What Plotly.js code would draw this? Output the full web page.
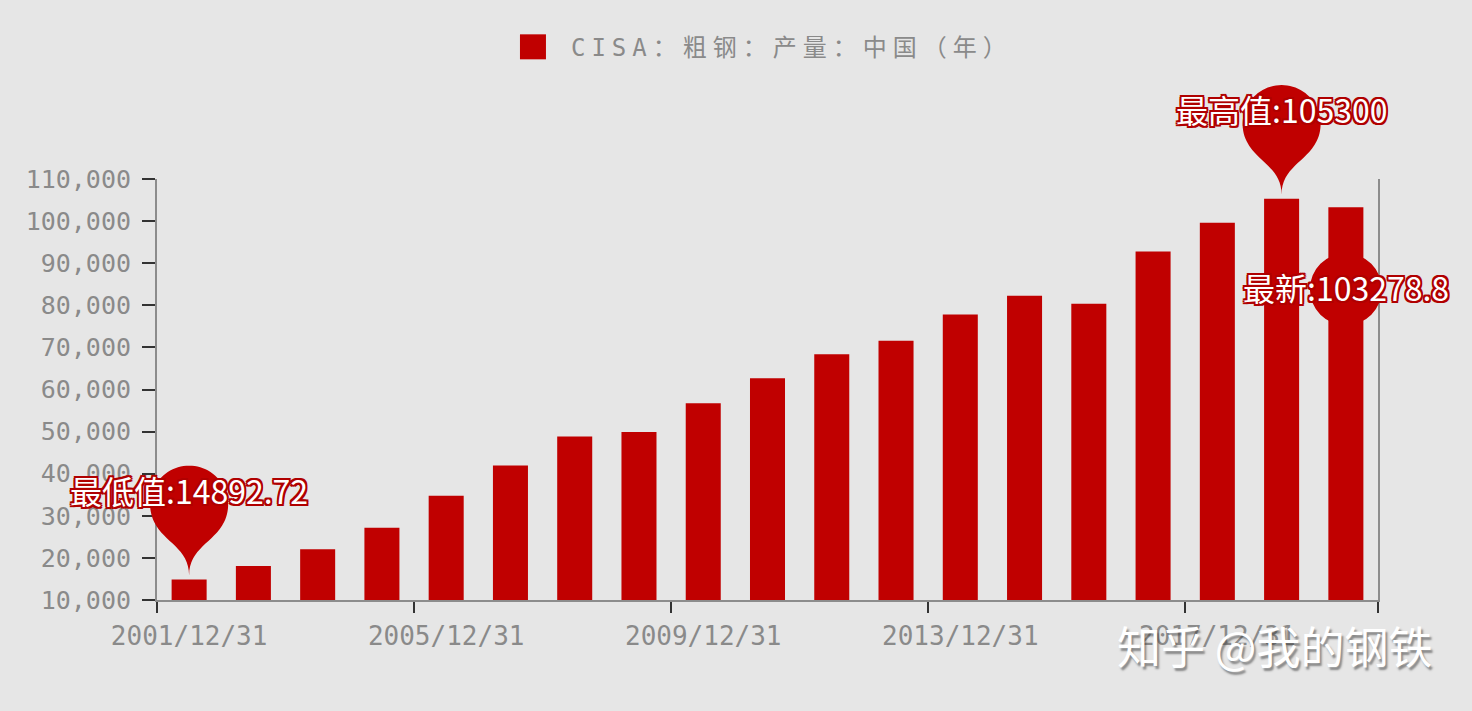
<!DOCTYPE html>
<html>
<head>
<meta charset="utf-8">
<script src="https://cdn.plot.ly/plotly-3.0.1.min.js"></script>
<style>
html,body{margin:0;padding:0;background:#e6e6e6;}
#chart{width:1472px;height:711px;}
.legendtext{letter-spacing:6px;}
</style>
</head>
<body>
<div id="chart"></div>
<script>
// ---------- data ----------
const categories = ['2001/12/31','2002/12/31','2003/12/31','2004/12/31','2005/12/31','2006/12/31','2007/12/31',
  '2008/12/31','2009/12/31','2010/12/31','2011/12/31','2012/12/31','2013/12/31','2014/12/31','2015/12/31',
  '2016/12/31','2017/12/31','2018/12/31','2019/12/31'];
const production = [14892.72, 18080, 22030, 27180, 34790, 41920, 48810, 49930, 56720, 62670,
  68370, 71550, 77800, 82250, 80350, 92780, 99600, 105300, 103278.8];
const seriesName = 'CISA：粗钢：产量：中国（年）';
const yTicks = [10000, 20000, 30000, 40000, 50000, 60000, 70000, 80000, 90000, 100000, 110000];
const xTickEvery = 4;
const labelMin = '最低值:';
const labelMax = '最高值:';
const labelLatest = '最新:';
const watermark = '知乎 @我的钢铁';

// ---------- derived ----------
const RED = '#c00000';
const xIdx = categories.map((_, i) => i);
const xRange = [-0.5, categories.length - 0.5];
const yRange = [yTicks[0], yTicks[yTicks.length - 1]];
const xTickVals = xIdx.filter(i => i % xTickEvery === 0);
const xTickText = xTickVals.map(i => categories[i]);
const xBoundaries = xTickVals.map(i => i - 0.5).concat([categories.length - 0.5]);

const xP = i => (i - xRange[0]) / (xRange[1] - xRange[0]);
const yP = v => (v - yRange[0]) / (yRange[1] - yRange[0]);

let iMin = 0, iMax = 0;
production.forEach((v, i) => { if (v < production[iMin]) iMin = i; if (v > production[iMax]) iMax = i; });
const iLast = production.length - 1;

// ECharts-like pin symbol, pixel coordinates, y up, tip at (0, lift)
const PIN_R = 39, PIN_H = 127, PIN_LIFT = 4;
function pinGeom(r, h) {
  const dy = r * r / (h - r);
  const cy = -h + r + dy;
  return {dy, cy};
}
function pinPath(r, h, lift) {
  const {dy, cy} = pinGeom(r, h);
  const a = Math.asin(dy / r);
  const dx = Math.cos(a) * r;
  const tanX = Math.sin(a), tanY = Math.cos(a);
  const c1 = r * 0.6, c2 = r * 0.7;
  const f = (x, y) => x.toFixed(2) + ',' + (-y + lift).toFixed(2);
  const n = 56;
  let d = '';
  for (let k = 0; k <= n; k++) {
    const t = Math.PI - a + (Math.PI + 2 * a) * k / n;
    d += (k === 0 ? 'M' : 'L') + f(r * Math.cos(t), cy + r * Math.sin(t));
  }
  d += 'C' + f(dx - tanX * c1, cy + dy + tanY * c1) + ' ' + f(0, -c2) + ' ' + f(0, 0);
  d += 'C' + f(0, -c2) + ' ' + f(-dx + tanX * c1, cy + dy + tanY * c1) + ' ' + f(-dx, cy + dy) + 'Z';
  return d;
}
const pinCenterUp = -pinGeom(PIN_R, PIN_H).cy + PIN_LIFT;

function pinShape(i) {
  return {type: 'path', xref: 'paper', yref: 'paper', xsizemode: 'pixel', ysizemode: 'pixel',
    xanchor: xP(i), yanchor: yP(production[i]), path: pinPath(PIN_R, PIN_H, PIN_LIFT),
    fillcolor: RED, line: {width: 0}, layer: 'above'};
}
const LATEST_R = 36, LATEST_DOWN = 82;
const latestCircle = {type: 'circle', xref: 'paper', yref: 'paper', xsizemode: 'pixel', ysizemode: 'pixel',
  xanchor: xP(iLast), yanchor: yP(production[iLast]),
  x0: -LATEST_R, x1: LATEST_R, y0: -LATEST_DOWN - LATEST_R, y1: -LATEST_DOWN + LATEST_R,
  fillcolor: RED, line: {width: 0}, layer: 'above'};

const oc = '#b00000';
const outline = ['-1.8px -1.8px 0 ' + oc, '1.8px -1.8px 0 ' + oc, '-1.8px 1.8px 0 ' + oc, '1.8px 1.8px 0 ' + oc,
  '0 2px 0 ' + oc, '0 -2px 0 ' + oc, '2px 0 0 ' + oc, '-2px 0 0 ' + oc].join(', ');
const labelFont = {family: 'Noto Sans CJK SC, sans-serif', size: 32, color: '#ffffff', shadow: outline};

function markLabel(i, text, yshift) {
  return {xref: 'paper', yref: 'paper', x: xP(i), y: yP(production[i]), text: text,
    showarrow: false, xanchor: 'center', yanchor: 'middle', yshift: yshift, font: labelFont};
}

const annotations = [
  markLabel(iMin, labelMin + production[iMin], pinCenterUp + 15),
  markLabel(iMax, labelMax + production[iMax], pinCenterUp + 15),
  markLabel(iLast, labelLatest + production[iLast], -LATEST_DOWN + 2),
  {xref: 'paper', yref: 'paper', x: 0.9156, y: -0.107, text: watermark, showarrow: false,
   xanchor: 'center', yanchor: 'middle',
   font: {family: 'Noto Sans CJK SC, sans-serif', size: 44, color: '#ffffff', shadow: '2px 3px 2px rgba(60,60,60,0.55)'}}
];

const trace = {
  type: 'bar', x: xIdx, y: production, name: seriesName,
  marker: {color: RED, line: {width: 0}}, hoverinfo: 'skip'
};

const yTickFont = {family: 'DejaVu Sans Mono, monospace', size: 25, color: '#8a8a8a'};
const xTickFont = {family: 'DejaVu Sans Mono, monospace', size: 26, color: '#8a8a8a'};

const layout = {
  width: 1472, height: 711,
  paper_bgcolor: '#e6e6e6', plot_bgcolor: '#e6e6e6',
  margin: {l: 157, r: 94, t: 179, b: 111, pad: 0},
  bargap: 0.455,
  showlegend: true,
  legend: {orientation: 'h', x: 0.5057, xanchor: 'center', y: 1.313, yanchor: 'middle',
    bgcolor: 'rgba(0,0,0,0)', font: {family: 'DejaVu Sans Mono, Noto Sans CJK SC, monospace', size: 24, color: '#8a8a8a'}},
  xaxis: {type: 'linear', range: xRange, tickmode: 'array', tickvals: xTickVals, ticktext: xTickText,
    ticks: '', showgrid: false, zeroline: false, showline: true, linecolor: '#8c8c8c', linewidth: 2,
    tickfont: xTickFont, ticklabelstandoff: 12,
    minor: {tickmode: 'array', tickvals: xBoundaries, ticks: 'outside', ticklen: 11, tickwidth: 2, tickcolor: '#333333', showgrid: false}},
  yaxis: {range: yRange, tickmode: 'array', tickvals: yTicks, tickformat: ',',
    ticks: 'outside', ticklen: 13, tickwidth: 2, tickcolor: '#333333',
    showgrid: false, zeroline: false, showline: true, linecolor: '#8c8c8c', linewidth: 2, mirror: true,
    tickfont: yTickFont, ticklabelstandoff: 6},
  shapes: [pinShape(iMin), pinShape(iMax), latestCircle],
  annotations: annotations,
  hovermode: false
};

Plotly.newPlot('chart', [trace], layout, {displayModeBar: false, staticPlot: true}).then(gd => {
  gd.querySelectorAll('.legend [clip-path]').forEach(el => el.removeAttribute('clip-path'));
  gd.querySelectorAll('.legend .legendpoints path').forEach(p => {
    p.removeAttribute('clip-path');
    p.setAttribute('d', 'M13,12.5H-13V-12.5H13Z');
    p.setAttribute('transform', 'translate(2,0)');
    p.style.fill = RED;
    p.style.stroke = 'none';
  });
});
</script>
</body>
</html>
